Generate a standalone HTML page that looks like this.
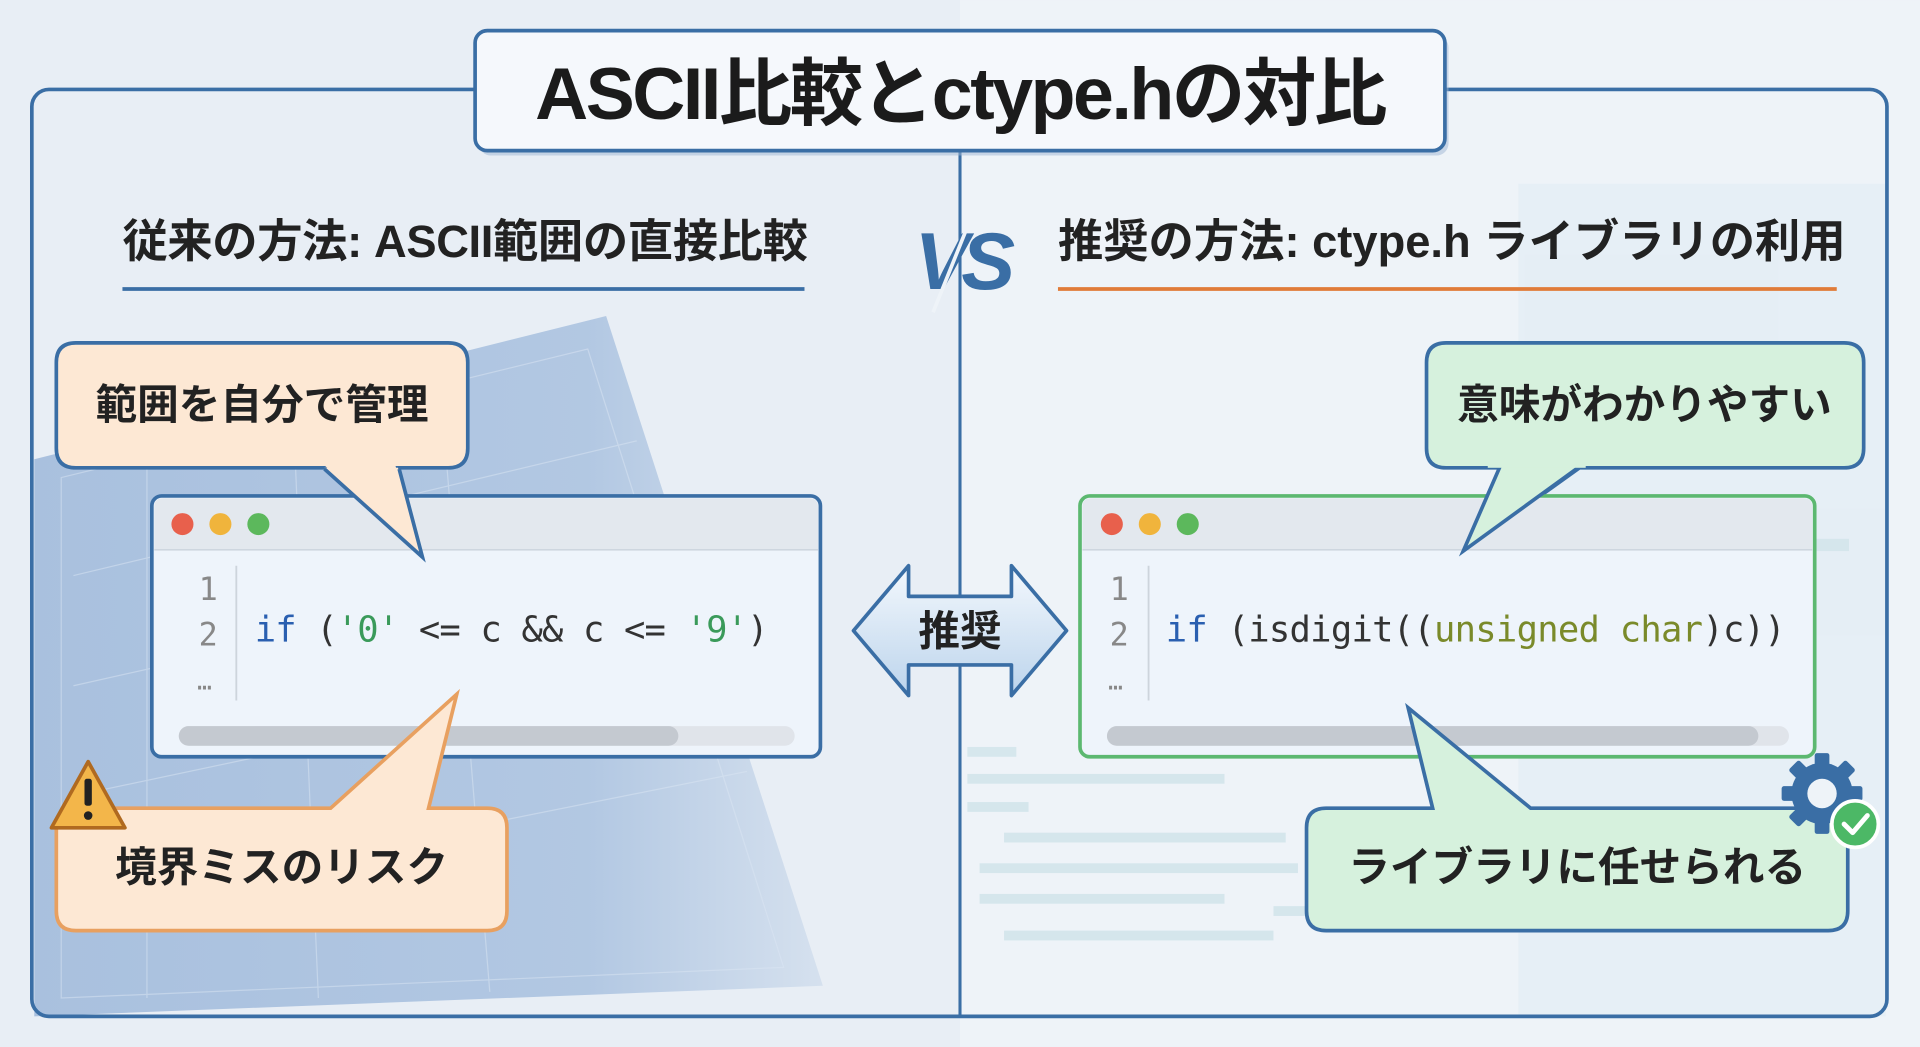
<!DOCTYPE html>
<html><head><meta charset="utf-8"><style>
html,body{margin:0;padding:0;width:1920px;height:1047px;overflow:hidden;background:#e9eff6}
svg{display:block}
text{font-family:"Liberation Sans","Noto Sans CJK JP",sans-serif}
.m{font-family:"DejaVu Sans Mono","Liberation Mono",monospace}
</style></head><body>
<svg width="1920" height="1047" viewBox="0 0 1568 855" xmlns="http://www.w3.org/2000/svg">
<defs>
<linearGradient id="arr" x1="0" y1="0" x2="0" y2="1"><stop offset="0" stop-color="#f3f8fd"/><stop offset="1" stop-color="#bcd4ec"/></linearGradient>
<linearGradient id="bp" x1="0" y1="0" x2="1" y2="0"><stop offset="0" stop-color="#7fa2cf"/><stop offset="0.7" stop-color="#8eaed6"/><stop offset="1" stop-color="#c9d8ea"/></linearGradient>
</defs>
<rect width="1568" height="855" fill="#e8eef5"/>
<rect x="784" width="784" height="855" fill="#eef3f8"/>
<!-- blueprint -->
<polygon points="28,375 495,258 672,805 28,830" fill="url(#bp)" opacity="0.6"/>
<g stroke="#dbe6f3" stroke-width="1" opacity="0.5" fill="none">
<polygon points="50,390 480,285 640,790 50,815"/>
<line x1="60" y1="470" x2="520" y2="360"/><line x1="60" y1="560" x2="550" y2="450"/><line x1="60" y1="650" x2="580" y2="540"/><line x1="60" y1="740" x2="610" y2="630"/>
<line x1="120" y1="380" x2="120" y2="815"/><line x1="240" y1="350" x2="260" y2="815"/><line x1="360" y1="320" x2="400" y2="810"/>
</g>
<!-- right faint code bg -->
<g fill="#cfe3ea" opacity="0.8">
<rect x="1240" y="150" width="300" height="680" fill="#e3edf5"/>
<rect x="1270" y="280" width="80" height="10"/><rect x="1390" y="440" width="120" height="10"/><rect x="1380" y="470" width="100" height="10"/>
<rect x="790" y="610" width="40" height="8"/><rect x="790" y="632" width="210" height="8"/><rect x="790" y="655" width="50" height="8"/>
<rect x="820" y="680" width="230" height="8"/><rect x="800" y="705" width="260" height="8"/><rect x="800" y="730" width="200" height="8"/>
<rect x="820" y="760" width="220" height="8"/><rect x="1040" y="740" width="60" height="8"/>
</g>
<!-- frame -->
<rect x="26" y="73" width="1515" height="757" rx="14" fill="none" stroke="#3a6ea5" stroke-width="3"/>
<line x1="784" y1="123" x2="784" y2="830" stroke="#3a6ea5" stroke-width="2.5"/>
<!-- title -->
<rect x="391" y="29" width="792" height="98" rx="10" fill="#9db5d3" opacity="0.5"/>
<rect x="388" y="25" width="792" height="98" rx="10" fill="#f5f8fc" stroke="#3a6ea5" stroke-width="3"/>
<text x="784" y="97" text-anchor="middle" font-size="60" font-weight="bold" fill="#1b1b1b" letter-spacing="-2">ASCII比較とctype.hの対比</text>
<!-- headings -->
<text x="100" y="210" font-size="37" font-weight="bold" fill="#222" letter-spacing="-0.3">従来の方法: ASCII範囲の直接比較</text>
<line x1="100" y1="236" x2="657" y2="236" stroke="#3a6ea5" stroke-width="3"/>
<text x="864" y="210" font-size="37" font-weight="bold" fill="#222" letter-spacing="0">推奨の方法: ctype.h ライブラリの利用</text>
<line x1="864" y1="236" x2="1500" y2="236" stroke="#e07b39" stroke-width="3"/>
<text x="785" y="236" text-anchor="middle" font-size="66" font-weight="bold" font-style="italic" fill="#3a6ea5" letter-spacing="-6">VS</text>
<line x1="805" y1="148" x2="762" y2="255" stroke="#eef3f8" stroke-width="3"/>
<!-- left bubble 1 -->
<path d="M62,280 H366 Q382,280 382,296 V366 Q382,382 366,382 H325 L345,455 L265,382 H62 Q46,382 46,366 V296 Q46,280 62,280 Z" fill="#fde8d4" stroke="#3a6ea5" stroke-width="3"/>
<text x="214" y="342" text-anchor="middle" font-size="34" font-weight="bold" fill="#222">範囲を自分で管理</text>
<!-- left code window -->
<rect x="124" y="405" width="546" height="213" rx="8" fill="#eef4fb" stroke="#3a6ea5" stroke-width="3"/>
<path d="M126,449 V414 Q126,407 133,407 H661 Q668,407 668,414 V449 Z" fill="#e3e8ee"/>
<line x1="126" y1="449" x2="668" y2="449" stroke="#c8d0da"/>
<path d="M265,382 L345,455 L325,382" fill="#fde8d4" stroke="none"/>
<path d="M265,383 L345,455 L326,383" fill="none" stroke="#3a6ea5" stroke-width="3"/>
<circle cx="149" cy="428" r="9" fill="#e8604c"/><circle cx="180" cy="428" r="9" fill="#f0b43c"/><circle cx="211" cy="428" r="9" fill="#5cb85c"/>
<line x1="193" y1="462" x2="193" y2="572" stroke="#cdd4dc" stroke-width="1.5"/>
<text x="170" y="490" text-anchor="middle" class="m" font-size="26" fill="#888">1</text>
<text x="170" y="527" text-anchor="middle" class="m" font-size="26" fill="#888">2</text>
<text x="167" y="563" text-anchor="middle" class="m" font-size="20" fill="#888">…</text>
<text x="208" y="524" class="m" font-size="29" fill="#333" letter-spacing="-0.7"><tspan fill="#2a5fb0">if</tspan> (<tspan fill="#3a9a5a">'0'</tspan> &lt;= c &amp;&amp; c &lt;= <tspan fill="#3a9a5a">'9'</tspan>)</text>
<rect x="146" y="593" width="503" height="16" rx="8" fill="#e0e4ea"/>
<rect x="146" y="593" width="408" height="16" rx="8" fill="#c4c9d0"/>
<!-- left bubble 2 -->
<path d="M62,660 H270 L373,567 L350,660 H398 Q414,660 414,676 V744 Q414,760 398,760 H62 Q46,760 46,744 V676 Q46,660 62,660 Z" fill="#fde8d4" stroke="#e8a060" stroke-width="3"/>
<text x="230" y="720" text-anchor="middle" font-size="34" font-weight="bold" fill="#222">境界ミスのリスク</text>
<path d="M72,622 L102,676 H42 Z" fill="#f3b64a" stroke="#b06a20" stroke-width="3" stroke-linejoin="round"/>
<rect x="69" y="636" width="6" height="22" rx="2" fill="#222"/><circle cx="72" cy="666" r="3.5" fill="#222"/>
<!-- middle arrow -->
<polygon points="697,515 742,462 742,487 826,487 826,462 871,515 826,568 826,543 742,543 742,568" fill="url(#arr)" stroke="#3a6ea5" stroke-width="3" stroke-linejoin="round"/>
<text x="784" y="527" text-anchor="middle" font-size="34" font-weight="bold" fill="#222">推奨</text>
<!-- right bubble 1 -->
<path d="M1181,280 H1506 Q1522,280 1522,296 V366 Q1522,382 1506,382 H1290 L1195,450 L1225,382 H1181 Q1165,382 1165,366 V296 Q1165,280 1181,280 Z" fill="#d6f1dd" stroke="#3a6ea5" stroke-width="3"/>
<text x="1343" y="342" text-anchor="middle" font-size="34" font-weight="bold" fill="#222">意味がわかりやすい</text>
<!-- right code window -->
<rect x="882" y="405" width="600" height="213" rx="8" fill="#eef4fb" stroke="#5cb870" stroke-width="3"/>
<path d="M884,449 V414 Q884,407 891,407 H1473 Q1480,407 1480,414 V449 Z" fill="#e3e8ee"/>
<line x1="884" y1="449" x2="1480" y2="449" stroke="#c8d0da"/>
<path d="M1225,381 L1195,450 L1290,381" fill="#d6f1dd" stroke="#3a6ea5" stroke-width="3"/>
<rect x="1215" y="379" width="80" height="3" fill="#d6f1dd"/>
<circle cx="908" cy="428" r="9" fill="#e8604c"/><circle cx="939" cy="428" r="9" fill="#f0b43c"/><circle cx="970" cy="428" r="9" fill="#5cb85c"/>
<line x1="938" y1="462" x2="938" y2="572" stroke="#cdd4dc" stroke-width="1.5"/>
<text x="914" y="490" text-anchor="middle" class="m" font-size="26" fill="#888">1</text>
<text x="914" y="527" text-anchor="middle" class="m" font-size="26" fill="#888">2</text>
<text x="911" y="563" text-anchor="middle" class="m" font-size="20" fill="#888">…</text>
<text x="952" y="524" class="m" font-size="29" fill="#333" letter-spacing="-0.6"><tspan fill="#2a5fb0">if</tspan> (isdigit((<tspan fill="#7a8a2a">unsigned char</tspan>)c))</text>
<rect x="904" y="593" width="557" height="16" rx="8" fill="#e0e4ea"/>
<rect x="904" y="593" width="532" height="16" rx="8" fill="#c4c9d0"/>
<!-- right bubble 2 -->
<path d="M1083,660 H1170 L1150,578 L1250,660 H1493 Q1509,660 1509,676 V744 Q1509,760 1493,760 H1083 Q1067,760 1067,744 V676 Q1067,660 1083,660 Z" fill="#d6f1dd" stroke="#3a6ea5" stroke-width="3"/>
<text x="1288" y="720" text-anchor="middle" font-size="34" font-weight="bold" fill="#222">ライブラリに任せられる</text>
<!-- gear + check -->
<g transform="translate(1488,648)">
<g fill="#3a6ea5">
<circle r="25"/>
<rect x="-6" y="-33" width="12" height="66" rx="2"/>
<rect x="-6" y="-33" width="12" height="66" rx="2" transform="rotate(45)"/>
<rect x="-6" y="-33" width="12" height="66" rx="2" transform="rotate(90)"/>
<rect x="-6" y="-33" width="12" height="66" rx="2" transform="rotate(135)"/>
</g>
<circle r="12" fill="#eef3f8"/>
</g>
<circle cx="1515" cy="673" r="19" fill="#4cb866" stroke="#fff" stroke-width="3"/>
<path d="M1506,673 L1513,680 L1525,666" fill="none" stroke="#fff" stroke-width="4" stroke-linecap="round" stroke-linejoin="round"/>
</svg>
</body></html>
